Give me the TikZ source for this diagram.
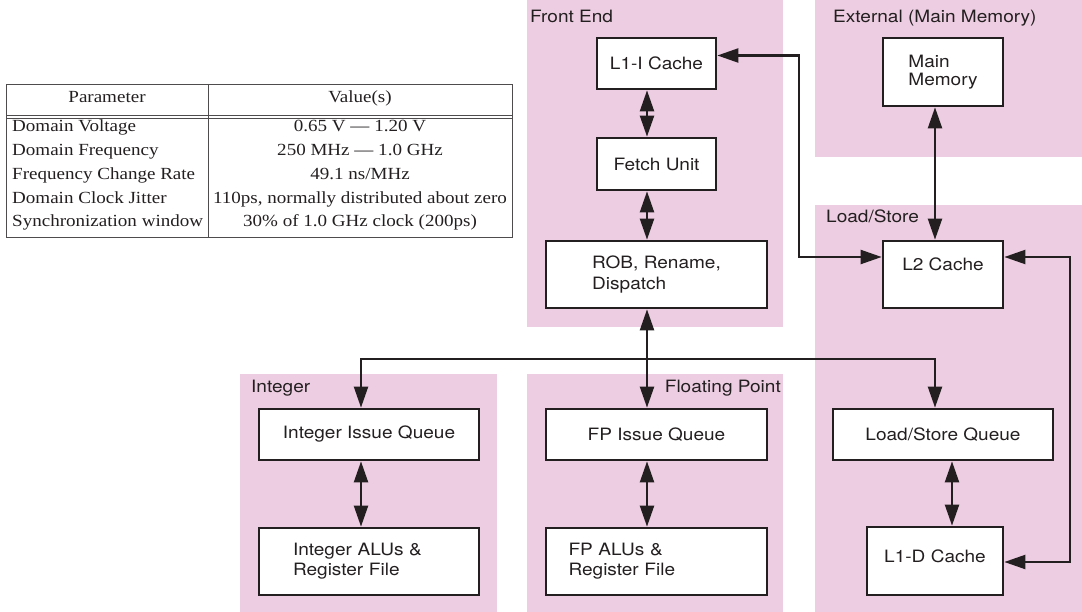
\documentclass[tikz,border=0pt]{standalone}
\usepackage{fontspec}
\setmainfont{Liberation Serif}[FakeStretch=1.12]
\newfontfamily\diagfont{TeX Gyre Heros}[FakeStretch=1.12]
\usepackage{tikz}
\usetikzlibrary{arrows.meta,positioning,calc}
\definecolor{domainpink}{RGB}{237,205,225}
\definecolor{inkgray}{RGB}{35,31,32}

\begin{document}
\begin{tikzpicture}[
    x=1pt, y=-1pt,
    box/.style={draw=inkgray, line width=2.7pt, fill=white, rectangle, inner sep=0pt,
        text=inkgray, font=\diagfont\fontsize{17}{20}\selectfont},
    link/.style={draw=inkgray, line width=2.2pt},
    clockdomain/.style={fill=domainpink},
    domaintitle/.style={inner sep=0pt, text=inkgray, font=\diagfont\fontsize{17}{20}\selectfont},
    tabtext/.style={inner sep=0pt, text=inkgray, font=\fontsize{17}{20}\selectfont},
    tabline/.style={draw=inkgray!80, line width=0.8pt},
    >={Triangle[length=21pt,width=14pt]}
]
    \useasboundingbox (0,0) rectangle (1082,612);

    % Clock domains
    \fill[clockdomain] (527,0) rectangle (783,327);
    \fill[clockdomain] (815,0) rectangle (1082,157);
    \fill[clockdomain] (815,205) rectangle (1082,612);
    \fill[clockdomain] (240,374) rectangle (497,612);
    \fill[clockdomain] (527,374) rectangle (783,612);
    \node[domaintitle, anchor=base west] (tfront) at (530,23) {Front End};
    \node[domaintitle, anchor=base west] (texternal) at (833,23) {External (Main Memory)};
    \node[domaintitle, anchor=base west] (tls) at (826,223) {Load/Store};
    \node[domaintitle, anchor=base west] (tint) at (251,392) {Integer};
    \node[domaintitle, anchor=base east] (tfp) at (781,392) {Floating Point};

    % Parameter table
    \draw[tabline] (6,84) rectangle (512,237);
    \draw[tabline] (208,84) -- (208,237);
    \draw[tabline] (6,115) -- (512,115) (6,118) -- (512,118);
    \node[tabtext, anchor=base] (hparam) at (107,103) {Parameter};
    \node[tabtext, anchor=base] (hvalue) at (360,103) {Value(s)};
    \foreach \param/\value [count=\i, evaluate=\i as \rowy using 108.25+\i*23.75] in {
        Domain Voltage/{0.65 V — 1.20 V},
        Domain Frequency/{250 MHz — 1.0 GHz},
        Frequency Change Rate/{49.1 ns/MHz},
        Domain Clock Jitter/{110ps, normally distributed about zero},
        Synchronization window/{30\% of 1.0 GHz clock (200ps)}}{
        \node[tabtext, anchor=base west] (param\i) at (12,\rowy) {\param};
        \node[tabtext, anchor=base] (value\i) at (360,\rowy) {\value};
    }

    % Units
    \node[box, minimum width=119pt, minimum height=51pt] (l1i) at (656.5,63.5) {L1-I Cache};
    \node[box, minimum width=119pt, minimum height=52pt] (fetch) at (656.5,164) {Fetch Unit};
    \node[box, minimum width=221pt, minimum height=67pt, align=left,
        font=\diagfont\fontsize{17}{21}\selectfont] (rob) at (656.5,274.5) {ROB, Rename,\\Dispatch};
    \node[box, minimum width=120pt, minimum height=68pt, align=left,
        font=\diagfont\fontsize{17}{18}\selectfont] (mem) at (943,72) {Main\\Memory};
    \node[box, minimum width=120pt, minimum height=67pt, text depth=20pt] (l2) at (943,274.5) {L2 Cache};
    \node[box, minimum width=220pt, minimum height=51pt] (iiq) at (369,434.5) {Integer Issue Queue};
    \node[box, minimum width=220pt, minimum height=67pt, align=left, text width=152pt] (ialu) at (369,561.5) {Integer ALUs \&\\Register File};
    \node[box, minimum width=221pt, minimum height=51pt] (fpiq) at (656.5,434.5) {FP Issue Queue};
    \node[box, minimum width=221pt, minimum height=67pt, align=left, text width=176pt] (fpalu) at (656.5,561.5) {FP ALUs \&\\Register File};
    \node[box, minimum width=220pt, minimum height=51pt] (lsq) at (943,434.5) {Load/Store Queue};
    \node[box, minimum width=136pt, minimum height=68pt, text depth=10pt] (l1d) at (935,561) {L1-D Cache};

    % Bus and links
    \coordinate (busmid) at (647,359);
    \coordinate (busleft) at (361,359);
    \coordinate (busright) at (935,359);
    \coordinate (icorner) at (799,257);
    \coordinate (dcorner) at (1070,562);
    \coordinate (lsqlink) at ([xshift=9pt]lsq.south);

    \draw[link,<->] (l1i.south -| busmid) -- (fetch.north -| busmid);
    \draw[link,<->] (fetch.south -| busmid) -- (rob.north -| busmid);
    \draw[link,<->] (rob.south -| busmid) -- (fpiq.north -| busmid);
    \draw[link,->] (busmid) -- (busleft) -- (iiq.north -| busleft);
    \draw[link,->] (busmid) -- (busright) -- (lsq.north -| busright);
    \draw[link,<->] (iiq.south -| busleft) -- (ialu.north -| busleft);
    \draw[link,<->] (fpiq.south -| busmid) -- (fpalu.north -| busmid);
    \draw[link,<->] (lsqlink) -- (lsqlink |- l1d.north);
    \draw[link,<->] (mem.south -| busright) -- (l2.north -| busright);
    \draw[link,<->] ([yshift=8pt]l1i.east) -| (icorner) -- (icorner -| l2.west);
    \draw[link,<->] (l2.east |- icorner) -| (dcorner) -- (dcorner -| l1d.east);
\end{tikzpicture}
\end{document}
